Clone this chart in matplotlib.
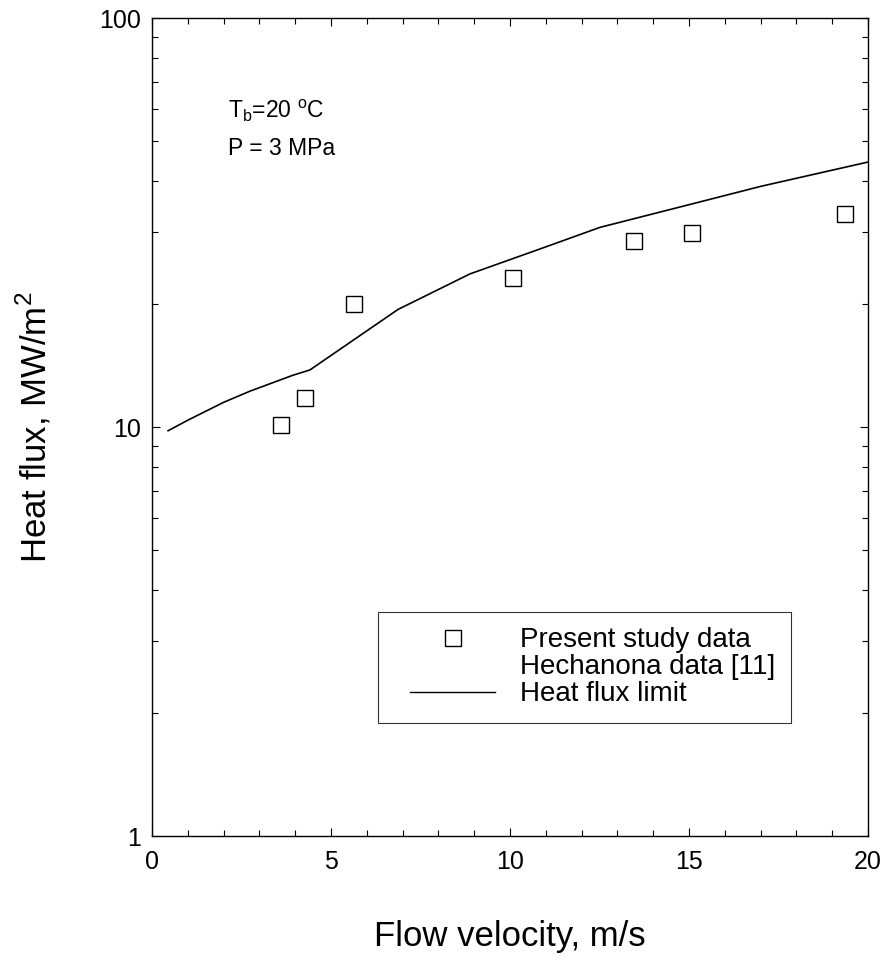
import matplotlib
matplotlib.use("Agg")
import matplotlib.pyplot as plt
from matplotlib.lines import Line2D
from matplotlib.legend_handler import HandlerLine2D
from matplotlib.ticker import FixedLocator, LogLocator, NullFormatter, MultipleLocator

plt.rcParams['font.family'] = ['Liberation Sans', 'DejaVu Sans']

# present study data (squares)
vel_data = [3.6, 4.27, 5.64, 10.08, 13.46, 15.08, 19.36]
flux_data = [10.1, 11.8, 20.0, 23.1, 28.5, 29.8, 33.2]

# heat flux limit curve
vel_limit = [0.45, 1.0, 2.0, 2.74, 3.94, 4.41, 6.87, 8.88, 11.0, 12.51, 15.0, 17.0, 20.0]
flux_limit = [9.8, 10.4, 11.5, 12.25, 13.4, 13.8, 19.4, 23.7, 27.6, 30.8, 35.0, 38.8, 44.5]

y_ticks = [1, 10, 100]
y_ticklabels = ["1", "10", "100"]

fig = plt.figure(figsize=(8.91, 9.61), dpi=100)
ax = fig.add_axes([0.1706, 0.130, 0.8036, 0.851])

ax.plot(vel_limit, flux_limit, color="black", lw=1.2, label="Heat flux limit")
ax.plot(vel_data, flux_data, ls="none", marker="s", ms=11, mfc="white",
        mec="black", mew=1.0, label="Present study data")

ax.set_yscale("log")
ax.set_xlim(0, 20)
ax.set_ylim(1, 100)
ax.xaxis.set_major_locator(MultipleLocator(5))
ax.xaxis.set_minor_locator(MultipleLocator(1))
ax.yaxis.set_major_locator(FixedLocator(y_ticks))
ax.set_yticklabels(y_ticklabels)
ax.yaxis.set_minor_locator(LogLocator(base=10, subs=range(2, 10)))
ax.yaxis.set_minor_formatter(NullFormatter())
ax.tick_params(which="both", direction="in", top=True, right=True, labelsize=18)
ax.tick_params(which="major", length=6, width=0.8)
ax.tick_params(which="minor", length=4, width=0.8)
ax.tick_params(axis="x", pad=10)
ax.tick_params(axis="y", pad=8)
for s in ax.spines.values():
    s.set_linewidth(1.0)

ax.set_xlabel("Flow velocity, m/s", fontsize=25)
ax.set_ylabel("Heat flux, MW/m$^{\\mathregular{2}}$", fontsize=25)
ax.xaxis.set_label_coords(0.5, -0.103)
ax.yaxis.set_label_coords(-0.138, 0.5)

ax.text(0.106, 0.878, "T$_{\\mathregular{b}}$=20 $^{\\mathregular{o}}$C", transform=ax.transAxes,
        fontsize=16.5, va="baseline")
ax.text(0.106, 0.8325, "P = 3 MPa", transform=ax.transAxes, fontsize=16.5, va="baseline")

# legend: middle entry has no marker in the original
handles = [
    Line2D([], [], ls="none", marker="s", ms=11, mfc="white", mec="black", mew=1.0),
    Line2D([], [], ls="none"),
    Line2D([], [], color="black", lw=1.0),
]
labels = ["Present study data", "Hechanona data [11]", "Heat flux limit"]
leg = ax.legend(handles, labels, loc="upper left", bbox_to_anchor=(0.316, 0.274),
                fontsize=20, frameon=True, fancybox=False, edgecolor="black",
                borderpad=0.55, labelspacing=0.04, handlelength=3.66, handletextpad=0.9,
                borderaxespad=0, numpoints=1,
                handler_map={Line2D: HandlerLine2D(xpad=0.6)})
leg.get_frame().set_linewidth(0.8)

fig.savefig("out.png", dpi=100)
